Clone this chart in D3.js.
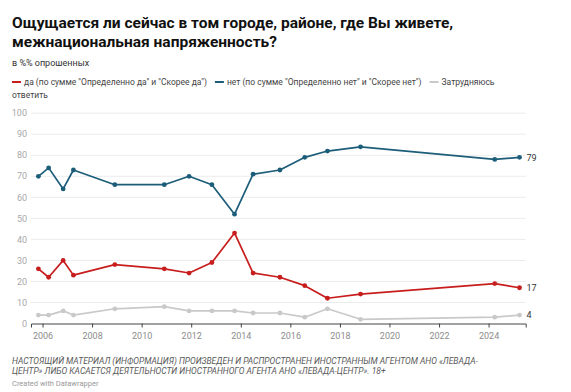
<!DOCTYPE html>
<html>
<head>
<meta charset="utf-8">
<script src="https://cdnjs.cloudflare.com/ajax/libs/d3/7.8.5/d3.min.js"></script>
<style>
  html, body { margin: 0; padding: 0; background: #fff; }
  svg { display: block; font-family: Roboto, 'Noto Sans', sans-serif; }
</style>
</head>
<body>
<div id="chart"></div>
<script>
// survey dates (year-month)
var dates = ['2005-11', '2006-04', '2006-11', '2007-04', '2008-12', '2010-12',
  '2011-12', '2012-11', '2013-10', '2014-07', '2015-08', '2016-08',
  '2017-07', '2018-11', '2024-04', '2025-04']

// values in %
var yes = [26, 22, 30, 23, 28, 26, 24, 29, 43, 24, 22, 18, 12, 14, 19, 17]
var no = [70, 74, 64, 73, 66, 66, 70, 66, 52, 71, 73, 79, 82, 84, 78, 79]
var hard = [4, 4, 6, 4, 7, 8, 6, 6, 6, 5, 5, 3, 7, 2, 3, 4]

var yTicks = [0, 10, 20, 30, 40, 50, 60, 70, 80, 90, 100]
var xTickYears = [2006, 2008, 2010, 2012, 2014, 2016, 2018, 2020, 2022, 2024]

var seriesNames = [
  'да (по сумме "Определенно да" и "Скорее да")',
  'нет (по сумме "Определенно нет" и "Скорее нет")',
  'Затрудняюсь ответить'
]
var colors = ['#c71e1d', '#1c5d7a', '#c9c9c9']

var title = ['Ощущается ли сейчас в том городе, районе, где Вы живете,',
  'межнациональная напряженность?']
var subtitle = 'в %% опрошенных'
var notes = ['НАСТОЯЩИЙ МАТЕРИАЛ (ИНФОРМАЦИЯ) ПРОИЗВЕДЕН И РАСПРОСТРАНЕН ИНОСТРАННЫМ АГЕНТОМ АНО «ЛЕВАДА-',
  'ЦЕНТР» ЛИБО КАСАЕТСЯ ДЕЯТЕЛЬНОСТИ ИНОСТРАННОГО АГЕНТА АНО «ЛЕВАДА-ЦЕНТР». 18+']
var credit = 'Created with Datawrapper'

var W = 571, H = 392
var parse = d3.timeParse('%Y-%m')

var svg = d3.select('#chart').append('svg')
  .attr('width', W)
  .attr('height', H)

// header
svg.selectAll('.title').data(title).enter().append('text')
  .attr('x', 12)
  .attr('y', function (d, i) { return 28 + i * 19 })
  .attr('font-weight', 'bold')
  .attr('font-size', 15.5)
  .attr('fill', '#111')
  .text(function (d) { return d })

svg.append('text')
  .attr('x', 12)
  .attr('y', 65.5)
  .attr('font-size', 9)
  .attr('fill', '#333')
  .text(subtitle)

// legend: inline items, last one wraps like in the original
var legend = svg.append('g').attr('font-size', 8.5).attr('fill', '#444')
var lx = 12
seriesNames.forEach(function (name, i) {
  legend.append('line')
    .attr('x1', lx).attr('x2', lx + 9)
    .attr('y1', 82).attr('y2', 82)
    .attr('stroke', colors[i])
    .attr('stroke-width', 2)
  var words = i === 2 ? name.split(' ') : [name]
  var t = legend.append('text')
    .attr('x', lx + 12)
    .attr('y', 85)
    .text(words[0])
  var w = t.node().getComputedTextLength()
  if (words.length > 1) {
    legend.append('text')
      .attr('x', 12)
      .attr('y', 97.5)
      .text(words.slice(1).join(' '))
  }
  lx += 12 + w + 8
})

// scales
var x = d3.scaleTime()
  .domain([new Date(2005, 6, 15), new Date(2025, 6, 1)])
  .range([31, 525.7])
var y = d3.scaleLinear()
  .domain([0, 100])
  .range([323.5, 113.2])

// y grid + labels
var yAxis = svg.append('g')
yAxis.selectAll('line').data(yTicks.slice(1)).enter().append('line')
  .attr('x1', 31).attr('x2', 525.7)
  .attr('y1', function (d) { return y(d) })
  .attr('y2', function (d) { return y(d) })
  .attr('stroke', '#ececec')
  .attr('stroke-width', 1)
yAxis.selectAll('text').data(yTicks).enter().append('text')
  .attr('x', 27)
  .attr('y', function (d) { return y(d) + 3.2 })
  .attr('text-anchor', 'end')
  .attr('font-size', 9)
  .attr('fill', '#a8a8a8')
  .text(function (d) { return d })

// x axis
var xAxis = svg.append('g')
  .attr('transform', 'translate(0,' + y(0) + ')')
  .call(d3.axisBottom(x)
    .tickValues(xTickYears.map(function (yr) { return new Date(yr, 0, 1) }))
    .tickFormat(d3.timeFormat('%Y'))
    .tickSizeOuter(0)
    .tickSize(4)
    .tickPadding(5))
xAxis.select('.domain').attr('stroke', '#444')
xAxis.selectAll('.tick line').attr('stroke', '#444')
xAxis.selectAll('.tick text')
  .attr('font-family', 'Roboto, sans-serif')
  .attr('font-size', 9)
  .attr('fill', '#8c8c8c')

// series, drawn gray first so the colored lines sit on top
var series = [
  { values: hard, color: colors[2] },
  { values: yes, color: colors[0] },
  { values: no, color: colors[1] }
]
var line = d3.line()
  .x(function (d) { return x(d.date) })
  .y(function (d) { return y(d.v) })

series.forEach(function (s) {
  var pts = dates.map(function (d, i) { return { date: parse(d), v: s.values[i] } })
  svg.append('path')
    .datum(pts)
    .attr('d', line)
    .attr('fill', 'none')
    .attr('stroke', s.color)
    .attr('stroke-width', 1.7)
    .attr('stroke-linejoin', 'round')
  svg.append('g').selectAll('circle').data(pts).enter().append('circle')
    .attr('cx', function (d) { return x(d.date) })
    .attr('cy', function (d) { return y(d.v) })
    .attr('r', 2.4)
    .attr('fill', s.color)
  var last = pts[pts.length - 1]
  svg.append('text')
    .attr('x', x(last.date) + 7)
    .attr('y', y(last.v) + 3.3)
    .attr('font-size', 9)
    .attr('fill', '#333')
    .text(last.v)
})

// footer
svg.selectAll('.note').data(notes).enter().append('text')
  .attr('x', 12)
  .attr('y', function (d, i) { return 363.5 + i * 10.5 })
  .attr('font-size', 8.5)
  .attr('font-style', 'italic')
  .attr('fill', '#5a5a5a')
  .text(function (d) { return d })

svg.append('text')
  .attr('x', 12)
  .attr('y', 385.5)
  .attr('font-size', 7.5)
  .attr('fill', '#999')
  .text(credit)
</script>
</body>
</html>
